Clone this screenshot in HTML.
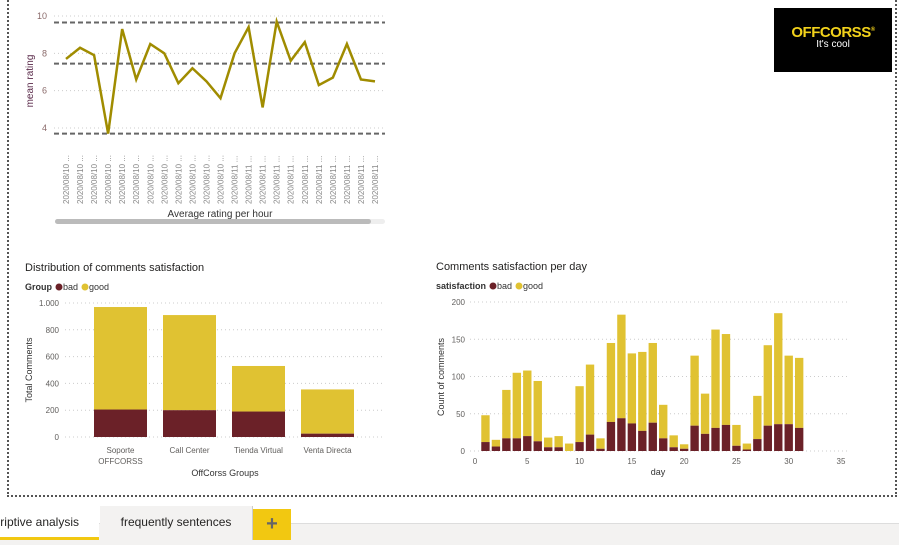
<!DOCTYPE html>
<html><head><meta charset="utf-8"><style>
body{margin:0;width:899px;height:544px;overflow:hidden;background:#fff;font-family:"Liberation Sans",sans-serif;position:relative}
.abs{position:absolute}
</style></head><body>
<div class="abs" style="left:7px;top:-3px;width:886px;height:498px;border-left:2px dotted #555;border-right:2px dotted #555;border-bottom:2px dotted #555"></div>
<div class="abs" style="left:774px;top:8px;width:118px;height:64px;background:#000;text-align:center">
<div style="color:#f2d21b;font-weight:bold;font-size:15px;margin-top:16px;letter-spacing:-0.5px">OFFCORSS<sup style="font-size:6px">®</sup></div>
<div style="color:#fff;font-size:10px;margin-top:-2px">It's cool</div></div>
<svg class="abs" style="left:0;top:0" width="899" height="544" font-family="Liberation Sans, sans-serif">
<g id="line"></g><g id="bar1"></g><g id="bar2"></g>
</svg>
<div class="abs" style="left:0;top:523px;width:899px;height:21px;background:#f3f2f1;border-top:1px solid #ddd"></div>
<div class="abs" style="left:0;top:506px;width:99px;height:31px;background:#fff;border-bottom:3px solid #f2c811;font-size:12px;color:#252423;line-height:33px;text-align:right;padding-right:0;overflow:hidden;white-space:nowrap"><span style="position:relative;left:-20px">riptive analysis</span></div>
<div class="abs" style="left:100px;top:506px;width:152px;height:34px;background:#f3f2f1;border-right:1px solid #ccc;font-size:12px;color:#252423;line-height:33px;text-align:center">frequently sentences</div>
<div class="abs" style="left:253px;top:509px;width:38px;height:31px;background:#f2c811;color:#666;font-size:20px;font-weight:bold;text-align:center;line-height:30px">+</div>
<script>
const NS="http://www.w3.org/2000/svg";
function mk(p,t,a,txt){const e=document.createElementNS(NS,t);for(const k in a)e.setAttribute(k,a[k]);if(txt!==undefined)e.textContent=txt;p.appendChild(e);return e;}
const lineValues=[7.7,8.3,7.9,3.7,9.3,6.6,8.5,8.0,6.4,7.2,6.5,5.6,8.0,9.4,5.1,9.7,7.6,8.6,6.3,6.7,8.5,6.6,6.5];
const lineRefs=[9.65,7.45,3.7];
const lineTicks=[4,6,8,10];
const groups=["Soporte|OFFCORSS","Call Center","Tienda Virtual","Venta Directa"];
const groupTotal=[970,910,530,355];
const groupBad=[205,200,190,25];
const groupTicks=[0,200,400,600,800,1000];
const groupTickLabels=["0","200","400","600","800","1.000"];
const days=[1,2,3,4,5,6,7,8,9,10,11,12,13,14,15,16,17,18,19,20,21,22,23,24,25,26,27,28,29,30,31];
const dayTotal=[48,15,82,105,108,94,18,20,10,87,116,17,145,183,131,133,145,62,21,9,128,77,163,157,35,10,74,142,185,128,125];
const dayBad=[12,6,17,17,20,13,5,5,0,12,22,3,39,44,37,27,38,17,5,3,34,23,31,35,7,2,16,34,36,36,31];
const dayYTicks=[0,50,100,150,200];
const dayXTicks=[0,5,10,15,20,25,30,35];
const GOOD="#e0c232",BAD="#6b2128",TXT="#605e5c";

(function(){
const g=document.getElementById('line');
const y=v=>16+(10-v)*(112/6), x=i=>66+i*(309/(lineValues.length-1));
lineTicks.forEach(t=>{
 const l=mk(g,'line',{x1:54,x2:385,y1:y(t),y2:y(t),stroke:"#ccc","stroke-dasharray":"1,3"});
 const tx=mk(g,'text',{x:47,y:y(t)+3,"font-size":9,fill:"#8a6a6a","text-anchor":"end"},t);});
lineRefs.forEach(r=>{const l=mk(g,'line',{x1:54,x2:385,y1:y(r),y2:y(r),stroke:"#666","stroke-width":2,"stroke-dasharray":"5,3"});});
const p=mk(g,'polyline',{points:lineValues.map((v,i)=>x(i)+","+y(v)).join(" "),fill:"none",stroke:"#a08c00","stroke-width":2.5});

lineValues.forEach((v,i)=>{const lab=i<12?"2020/08/10 ...":"2020/08/11 ...";
 const t=mk(g,'text',{transform:`translate(${x(i)+3},204) rotate(-90)`,"font-size":8,fill:"#888"},lab);});
const yt=mk(g,'text',{transform:"translate(33,81) rotate(-90)","font-size":10,fill:"#5a2a4a","text-anchor":"middle"},"mean rating");
const xt=mk(g,'text',{x:220,y:217,"font-size":10,fill:"#333","text-anchor":"middle"},"Average rating per hour");
const sb=mk(g,'rect',{x:55,y:219,width:330,height:5,rx:2.5,fill:"#eee"});
const st=mk(g,'rect',{x:55,y:219,width:316,height:5,rx:2.5,fill:"#bbb"});
})();

function legend(g,x,y,label,nm){
 const t=mk(g,'text',{x:x,y:y,"font-size":9,"font-weight":"bold",fill:"#333"},label);
 const w=x+t.getComputedTextLength()+7;
 const c1=mk(g,'circle',{cx:w,cy:y-3,r:3.5,fill:BAD});
 mk(g,'text',{x:w+4,y:y,"font-size":9,fill:"#333"},"bad");
 const c2=mk(g,'circle',{cx:w+26,cy:y-3,r:3.5,fill:GOOD});
 mk(g,'text',{x:w+30,y:y,"font-size":9,fill:"#333"},"good");
}
(function(){
const g=document.getElementById('bar1');
const y=v=>437-v*0.134;
const tt=mk(g,'text',{x:25,y:271,"font-size":11,fill:"#252423"},"Distribution of comments satisfaction");
legend(g,25,290,"Group","distribution");
groupTicks.forEach((t,i)=>{const l=mk(g,'line',{x1:65,x2:385,y1:y(t),y2:y(t),stroke:"#ccc","stroke-dasharray":"1,3"});
 const tx=mk(g,'text',{x:59,y:y(t)+3,"font-size":8,fill:TXT,"text-anchor":"end"},groupTickLabels[i]);});
groups.forEach((c,i)=>{const x0=94+i*69,w=53;
 const gb=mk(g,'rect',{x:x0,y:y(groupTotal[i]),width:w,height:y(groupBad[i])-y(groupTotal[i]),fill:GOOD});
 const bb=mk(g,'rect',{x:x0,y:y(groupBad[i]),width:w,height:y(0)-y(groupBad[i]),fill:BAD});
 c.split("|").forEach((s,j)=>{const t=mk(g,'text',{x:x0+w/2,y:453+j*11,"font-size":8,fill:TXT,"text-anchor":"middle"},s);});});
const yt=mk(g,'text',{transform:"translate(32,370) rotate(-90)","font-size":9,fill:"#333","text-anchor":"middle"},"Total Comments");
const xt=mk(g,'text',{x:225,y:476,"font-size":9,fill:"#333","text-anchor":"middle"},"OffCorss Groups");
})();
(function(){
const g=document.getElementById('bar2');
const y=v=>451-v*0.745, x=d=>475+d*(366/35);
const tt=mk(g,'text',{x:436,y:270,"font-size":11,fill:"#252423"},"Comments satisfaction per day");
legend(g,436,289,"satisfaction","per-day");
dayYTicks.forEach(t=>{const l=mk(g,'line',{x1:470,x2:848,y1:y(t),y2:y(t),stroke:"#ccc","stroke-dasharray":"1,3"});
 const tx=mk(g,'text',{x:465,y:y(t)+3,"font-size":8,fill:TXT,"text-anchor":"end"},t);});
dayXTicks.forEach(t=>{const tx=mk(g,'text',{x:x(t),y:464,"font-size":8,fill:TXT,"text-anchor":"middle"},t);});
const bw=366/35*0.8;
days.forEach((d,i)=>{
 const gb=mk(g,'rect',{x:x(d)-bw/2,y:y(dayTotal[i]),width:bw,height:y(dayBad[i])-y(dayTotal[i]),fill:GOOD});
 const bb=mk(g,'rect',{x:x(d)-bw/2,y:y(dayBad[i]),width:bw,height:y(0)-y(dayBad[i]),fill:BAD});});
const yt=mk(g,'text',{transform:"translate(444,377) rotate(-90)","font-size":9,fill:"#333","text-anchor":"middle"},"Count of comments");
const xt=mk(g,'text',{x:658,y:475,"font-size":9,fill:"#333","text-anchor":"middle"},"day");
})();
</script>
</body></html>
